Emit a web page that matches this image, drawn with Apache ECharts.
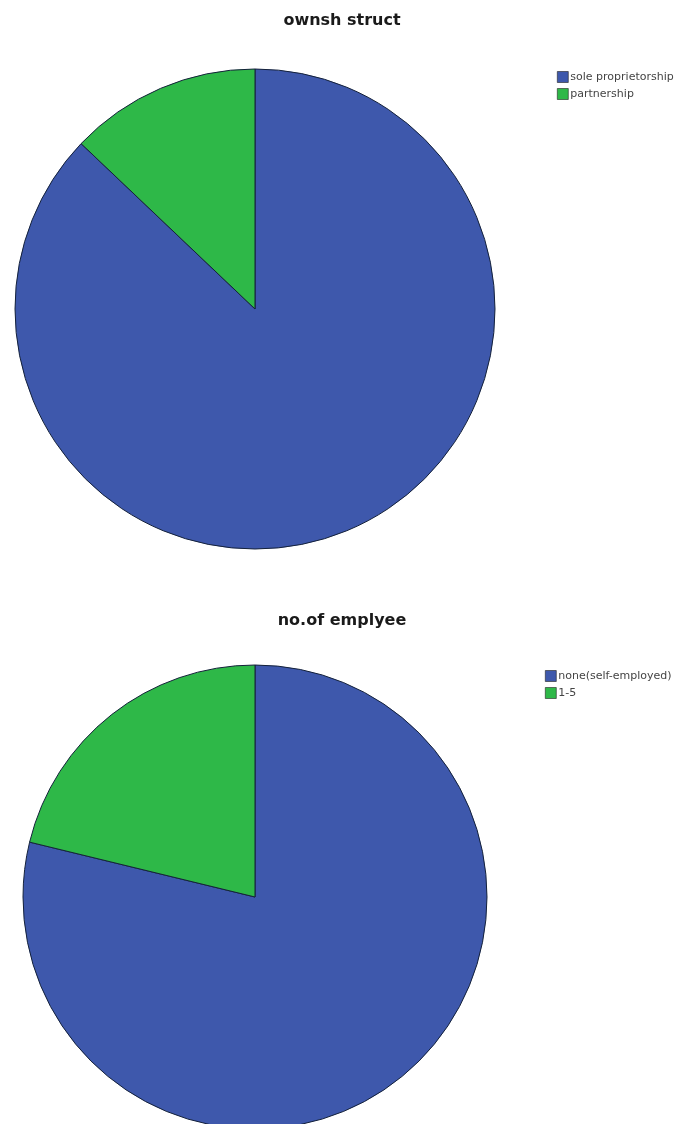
<!DOCTYPE html>
<html>
<head>
<meta charset="utf-8">
<script src="https://cdn.jsdelivr.net/npm/echarts@6/dist/echarts.min.js"></script>
<style>
html,body{margin:0;padding:0;background:#fff;}
#chart{width:684px;height:1124px;}
</style>
</head>
<body>
<div id="chart"></div>
<script>
// Chart 1: ownership structure (percent)
const title1 = 'ownsh struct';
const cats1 = ['sole proprietorship', 'partnership'];
const vals1 = [87.1, 12.9];

// Chart 2: number of employees (percent)
const title2 = 'no.of emplyee';
const cats2 = ['none(self-employed)', '1-5'];
const vals2 = [78.8, 21.2];

const colors = ['#3E58AC', '#2EB848'];

const chart = echarts.init(document.getElementById('chart'), null, {renderer: 'canvas'});

const titleStyle = {fontFamily: 'DejaVu Sans', fontSize: 16, fontWeight: 'bold', color: '#1a1a1a'};
const legendCommon = {
  orient: 'vertical',
  icon: 'rect',
  itemWidth: 11,
  itemHeight: 11,
  itemGap: 5,
  padding: 0,
  itemStyle: {borderColor: '#222', borderWidth: 0.6},
  textStyle: {fontFamily: 'DejaVu Sans', fontSize: 11, color: '#444', lineHeight: 12, padding: [0, 0, 0, -3]}
};

chart.setOption({
  animation: false,
  color: colors,
  title: [
    {text: title1, left: 'center', top: 13, padding: 0, textStyle: titleStyle},
    {text: title2, left: 'center', top: 613, padding: 0, textStyle: titleStyle}
  ],
  legend: [
    Object.assign({}, legendCommon, {data: cats1, left: 557, top: 71}),
    Object.assign({}, legendCommon, {data: cats2, left: 545, top: 670})
  ],
  series: [
    {
      type: 'pie',
      center: [255, 309],
      radius: 240,
      startAngle: 90,
      clockwise: true,
      label: {show: false},
      labelLine: {show: false},
      emphasis: {disabled: true},
      itemStyle: {borderColor: '#14213a', borderWidth: 1},
      data: cats1.map((n, i) => ({name: n, value: vals1[i]}))
    },
    {
      type: 'pie',
      center: [255, 897],
      radius: 232,
      startAngle: 90,
      clockwise: true,
      label: {show: false},
      labelLine: {show: false},
      emphasis: {disabled: true},
      itemStyle: {borderColor: '#14213a', borderWidth: 1},
      data: cats2.map((n, i) => ({name: n, value: vals2[i]}))
    }
  ]
});
</script>
</body>
</html>
